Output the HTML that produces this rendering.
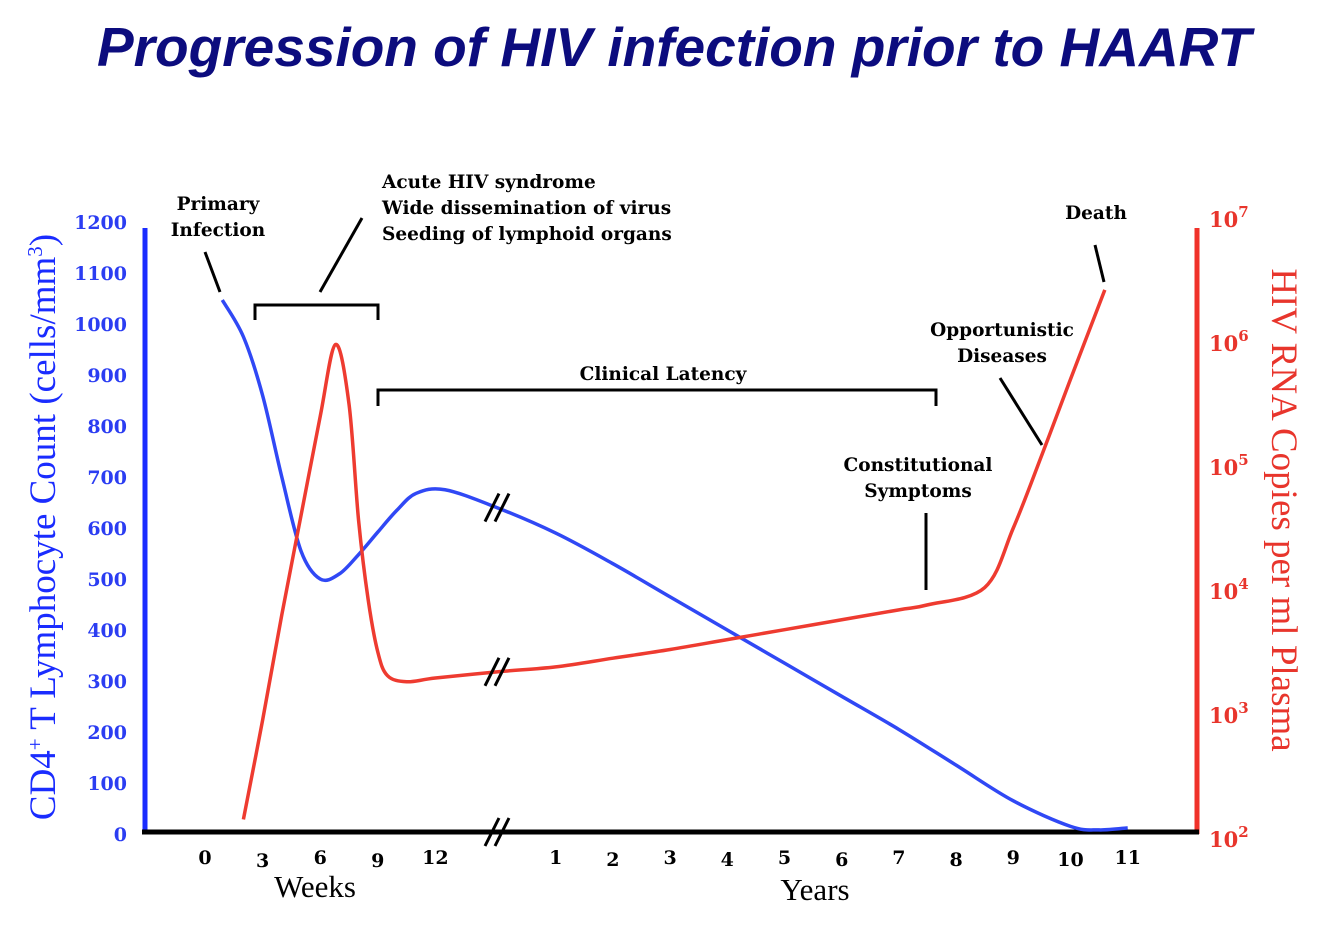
<!DOCTYPE html>
<html><head><meta charset="utf-8"><style>
body{margin:0;background:#fff;}
svg{display:block;}
.s{font-family:"Liberation Serif",serif;}
.d{font-family:"DejaVu Serif",serif;}
</style></head><body>
<svg width="1334" height="942" viewBox="0 0 1334 942">
<text x="674" y="66" text-anchor="middle" font-family="Liberation Sans,sans-serif" font-weight="bold" font-style="italic" font-size="55" fill="#0c0c7e">Progression of HIV infection prior to HAART</text>
<g id="axes"></g>
<g id="marks"></g>
<g id="ann"></g>
</svg>
<script>
const weekTicks=[0,3,6,9,12];
const yearTicks=[1,2,3,4,5,6,7,8,9,10,11];
const cd4Ticks=[0,100,200,300,400,500,600,700,800,900,1000,1100,1200];
const rnaExps=[2,3,4,5,6,7];
// CD4 series: weeks then years
const cd4Weeks=[0.9,2,3,4,5,6,7,8,9,10,11,12.5,15.2];
const cd4WeekVals=[1047,975,860,700,555,500,510,548,592,635,668,675,640];
const cd4Years=[1,2,3,4,5,6,7,8,9,10,10.5,11];
const cd4YearVals=[590,530,465,400,335,270,205,135,65,15,8,12];
// Viral load (log10 copies/ml)
const rnaWeeks=[2,3,4,5,6,6.8,7.5,8,8.5,9,9.5,10.5,12,15.2];
const rnaWeekVals=[2.15,2.95,3.8,4.6,5.4,5.98,5.5,4.56,3.92,3.5,3.31,3.26,3.29,3.34];
const rnaYears=[1,2,3,4,5,6,7,7.5,8.5,9,9.5,10,10.6];
const rnaYearVals=[3.38,3.45,3.52,3.6,3.68,3.76,3.84,3.88,4.02,4.5,5.09,5.7,6.42];

const NS="http://www.w3.org/2000/svg";
const xW=w=>205+w*19.2;
const xY=y=>498.5+y*57.2;
const yL=v=>834-v*0.51;
const yR=e=>838-(e-2)*124;
function el(p,t,a,txt){const e=document.createElementNS(NS,t);for(const k in a)e.setAttribute(k,a[k]);if(txt!==undefined)e.textContent=txt;p.appendChild(e);return e;}
function spline(pts){let d="M"+pts[0][0]+","+pts[0][1];for(let i=0;i<pts.length-1;i++){const p0=pts[i-1]||pts[i],p1=pts[i],p2=pts[i+1],p3=pts[i+2]||p2;const c1=[p1[0]+(p2[0]-p0[0])/6,p1[1]+(p2[1]-p0[1])/6],c2=[p2[0]-(p3[0]-p1[0])/6,p2[1]-(p3[1]-p1[1])/6];d+=` C${c1[0]},${c1[1]} ${c2[0]},${c2[1]} ${p2[0]},${p2[1]}`;}return d;}
const ax=document.getElementById('axes'),mk=document.getElementById('marks'),an=document.getElementById('ann');
let e;
e=el(ax,'line',{x1:145,y1:228,x2:145,y2:834,stroke:'#1a2cff','stroke-width':5});


e=el(ax,'line',{x1:1197,y1:228,x2:1197,y2:834,stroke:'#f0322a','stroke-width':5});


e=el(ax,'line',{x1:142,y1:832,x2:1199,y2:832,stroke:'#000','stroke-width':5});


cd4Ticks.forEach(v=>{e=el(ax,'text',{x:127,y:yL(v)+7,'text-anchor':'end','class':'d','font-size':19,'font-weight':'bold',fill:'#2b3df2'},v);

});
rnaExps.forEach(p=>{const t=el(ax,'text',{x:1209,y:yR(p)+9,'class':'d','font-size':21,'font-weight':'bold',fill:'#e8352c'});t.innerHTML='10<tspan dy="-10" font-size="15">'+p+'</tspan>';

});
weekTicks.forEach((w,i)=>{e=el(ax,'text',{x:xW(w),y:864+(i%2?3:0),'text-anchor':'middle','class':'d','font-size':19,'font-weight':'bold'},w);

});
yearTicks.forEach((y,i)=>{e=el(ax,'text',{x:xY(y),y:864+((i%2)?2:0),'text-anchor':'middle','class':'d','font-size':19,'font-weight':'bold'},y);

});
e=el(ax,'text',{x:315,y:897,'text-anchor':'middle','class':'s','font-size':31},'Weeks');


e=el(ax,'text',{x:815,y:900,'text-anchor':'middle','class':'s','font-size':31},'Years');


const lt=el(ax,'text',{transform:'translate(55,527) rotate(-90)','text-anchor':'middle','class':'s','font-size':37,fill:'#1a2cff'});
lt.innerHTML='CD4<tspan dy="-13" font-size="21">+</tspan><tspan dy="13"> T Lymphocyte Count (cells/mm</tspan><tspan dy="-13" font-size="21">3</tspan><tspan dy="13">)</tspan>';


e=el(ax,'text',{transform:'translate(1272,510) rotate(90)','text-anchor':'middle','class':'s','font-size':37,fill:'#e8352c'},'HIV RNA Copies per ml Plasma');


// series
const cd4Pts=cd4Weeks.map((w,i)=>[xW(w),yL(cd4WeekVals[i])]).concat(cd4Years.map((y,i)=>[xY(y),yL(cd4YearVals[i])]));
e=el(mk,'path',{d:spline(cd4Pts),fill:'none',stroke:'#3048f5','stroke-width':3.5});


const rnaPts=rnaWeeks.map((w,i)=>[xW(w),yR(rnaWeekVals[i])]).concat(rnaYears.map((y,i)=>[xY(y),yR(rnaYearVals[i])]));
e=el(mk,'path',{d:spline(rnaPts),fill:'none',stroke:'#ee3b30','stroke-width':3.5});


// break marks
[[497,832],[497,yL(640)],[497,yR(3.34)]].forEach(([x,y])=>{[-5,5].forEach(dx=>{e=el(an,'line',{x1:x+dx-7,y1:y+14,x2:x+dx+7,y2:y-14,stroke:'#000','stroke-width':3});

});});
// annotations
const lines=[[205,252,220,292],[362,218,320,292],[926,513,926,590],[1000,378,1042,445],[1095,245,1104,282]];
lines.forEach(l=>{e=el(an,'line',{x1:l[0],y1:l[1],x2:l[2],y2:l[3],stroke:'#000','stroke-width':3});

});
e=el(an,'path',{d:'M255,320 V305 H378 V320',fill:'none',stroke:'#000','stroke-width':3});


e=el(an,'path',{d:'M378,406 V390 H936 V406',fill:'none',stroke:'#000','stroke-width':3});


const labels=[[218,210,'Primary','middle'],[218,236,'Infection','middle'],[382,188,'Acute HIV syndrome','start'],[382,214,'Wide dissemination of virus','start'],[382,240,'Seeding of lymphoid organs','start'],[663,380,'Clinical Latency','middle'],[1096,219,'Death','middle'],[1002,336,'Opportunistic','middle'],[1002,362,'Diseases','middle'],[918,471,'Constitutional','middle'],[918,497,'Symptoms','middle']];
labels.forEach(l=>{e=el(an,'text',{x:l[0],y:l[1],'text-anchor':l[3],'class':'d','font-size':18.5,'font-weight':'bold'},l[2]);

});
</script>
</body></html>
